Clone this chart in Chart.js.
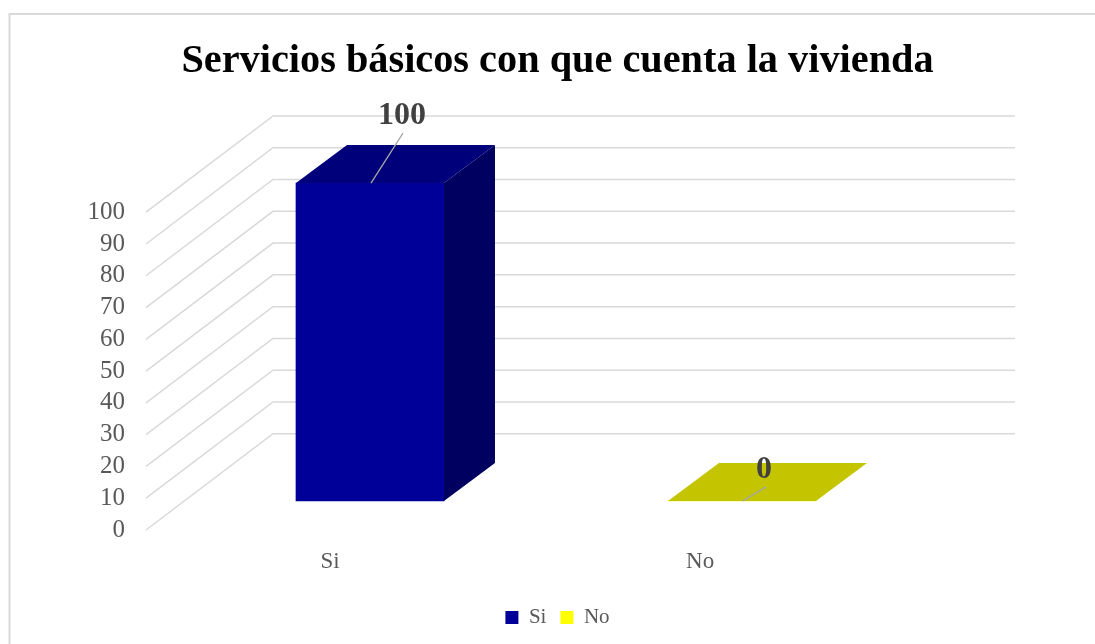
<!DOCTYPE html>
<html lang="es">
<head>
<meta charset="utf-8">
<title>Servicios básicos con que cuenta la vivienda</title>
<script src="https://cdn.jsdelivr.net/npm/chart.js@4"></script>
<style>
  html, body { margin: 0; padding: 0; background: #fff; }
  #wrap { width: 1095px; height: 644px; }
</style>
</head>
<body>
<div id="wrap"><canvas id="chart" width="1095" height="644"></canvas></div>
<script>
const chartTitle = 'Servicios básicos con que cuenta la vivienda';
const categories = ['Si', 'No'];
const seriesNames = ['Si', 'No'];
const seriesSi = [100, null];
const seriesNo = [null, 0];
const axisTicks = [0, 10, 20, 30, 40, 50, 60, 70, 80, 90, 100];

const FONT = '"Liberation Serif", serif';
// Oblique offset of the box depth and of the back wall
const BAR_DEPTH = { dx: 51, dy: -38 };
const WALL_DEPTH = { dx: 127 };
const GRID_RIGHT_INSET = 20;

function toPoints(values) {
  return values
    .map((y, x) => ({ x, y }))
    .filter(p => p.y !== null);
}

// Draws the frame edges and the walls behind the bars, from the front and back value axes
const wallPlugin = {
  id: 'wall',
  beforeDraw(chart) {
    const { ctx, width, height } = chart;
    ctx.save();
    ctx.strokeStyle = '#d9d9d9';
    ctx.lineWidth = 2;
    ctx.beginPath();
    ctx.moveTo(9.5, height);
    ctx.lineTo(9.5, 14);
    ctx.lineTo(width, 14);
    ctx.stroke();
    ctx.restore();
  },
  beforeDatasetsDraw(chart) {
    const { ctx, chartArea, scales } = chart;
    ctx.save();
    ctx.strokeStyle = '#d9d9d9';
    ctx.lineWidth = 1.5;
    axisTicks.forEach(v => {
      const yFront = scales.y.getPixelForValue(v);
      const yBack = scales.yBack.getPixelForValue(v);
      ctx.beginPath();
      ctx.moveTo(chartArea.left + 1, yFront);
      ctx.lineTo(chartArea.left + WALL_DEPTH.dx + 1, yBack);
      ctx.lineTo(chartArea.right - GRID_RIGHT_INSET, yBack);
      ctx.stroke();
    });
    ctx.restore();
  }
};

// Adds the side and top faces to each bar, then its value label and leader line
const boxPlugin = {
  id: 'box',
  afterDatasetsDraw(chart) {
    const { ctx } = chart;
    const { dx, dy } = BAR_DEPTH;
    ctx.save();
    chart.data.datasets.forEach((ds, i) => {
      chart.getDatasetMeta(i).data.forEach((bar, j) => {
        const half = bar.width / 2;
        const l = bar.x - half, r = bar.x + half;
        const t = bar.y, b = bar.base;
        if (b > t) {
          ctx.fillStyle = ds.sideColor;
          ctx.beginPath();
          ctx.moveTo(r, t);
          ctx.lineTo(r + dx, t + dy);
          ctx.lineTo(r + dx, b + dy);
          ctx.lineTo(r, b);
          ctx.closePath();
          ctx.fill();
        }
        ctx.fillStyle = ds.topColor;
        ctx.beginPath();
        ctx.moveTo(l, t);
        ctx.lineTo(l + dx, t + dy);
        ctx.lineTo(r + dx, t + dy);
        ctx.lineTo(r, t);
        ctx.closePath();
        ctx.fill();

        const o = ds.labelOffset;
        ctx.strokeStyle = '#a6a6a6';
        ctx.lineWidth = 1.3;
        ctx.beginPath();
        ctx.moveTo(bar.x + 1, t);
        ctx.lineTo(bar.x + o.lineX, t + o.lineY);
        ctx.stroke();

        ctx.fillStyle = '#404040';
        ctx.font = 'bold 32px ' + FONT;
        ctx.textAlign = 'center';
        ctx.textBaseline = 'middle';
        ctx.fillText(String(ds.data[j].y), bar.x + o.textX, t + o.textY);
      });
    });
    ctx.restore();
  }
};

new Chart(document.getElementById('chart'), {
  type: 'bar',
  data: {
    datasets: [
      {
        label: seriesNames[0],
        data: toPoints(seriesSi),
        xAxisID: 'xBar', yAxisID: 'yBar',
        backgroundColor: '#000099',
        sideColor: '#000060',
        topColor: '#00007a',
        labelOffset: { lineX: 33, lineY: -50, textX: 32, textY: -67 }
      },
      {
        label: seriesNames[1],
        data: toPoints(seriesNo),
        xAxisID: 'xBar', yAxisID: 'yBar',
        backgroundColor: '#ffff00',
        sideColor: '#9a9a00',
        topColor: '#c4c400',
        labelOffset: { lineX: 24, lineY: -14, textX: 22, textY: -31 }
      }
    ]
  },
  options: {
    responsive: false,
    animation: false,
    events: [],
    grouped: false,
    barThickness: 148,
    layout: { padding: { left: 80, right: 60, top: 0, bottom: 6 } },
    plugins: {
      tooltip: { enabled: false },
      title: {
        display: true,
        text: chartTitle,
        color: '#000000',
        font: { family: FONT, size: 40.3, weight: 'bold' },
        padding: { top: 37, bottom: 30.6 }
      },
      legend: {
        position: 'bottom',
        labels: {
          color: '#595959',
          font: { family: FONT, size: 21 },
          boxWidth: 13,
          boxHeight: 13,
          padding: 14
        }
      }
    },
    scales: {
      // Front value axis carrying the tick labels
      y: {
        type: 'linear',
        position: 'left',
        min: 0,
        max: 130.28,
        afterBuildTicks(scale) {
          scale.ticks = axisTicks.map(value => ({ value }));
        },
        afterFit(scale) { scale.width = 65; },
        grid: { display: false, drawTicks: false },
        border: { display: false },
        ticks: {
          color: '#595959',
          font: { family: FONT, size: 25 },
          padding: 20,
          autoSkip: false
        }
      },
      // Plane of the bars' front faces
      yBar: { type: 'linear', display: false, min: -9.15, max: 121.13 },
      // Back wall
      yBack: { type: 'linear', display: false, min: -30.28, max: 100 },
      // Category labels run along the front edge of the floor
      x: {
        type: 'linear',
        position: 'bottom',
        offset: false,
        min: -0.5,
        max: 1.905,
        afterBuildTicks(scale) {
          scale.ticks = categories.map((c, value) => ({ value }));
        },
        afterFit(scale) { scale.height = 63; },
        grid: { display: false, drawTicks: false },
        border: { display: false },
        ticks: {
          color: '#595959',
          font: { family: FONT, size: 23 },
          padding: 18,
          maxRotation: 0,
          autoSkip: false,
          callback: value => categories[value]
        }
      },
      xBar: { type: 'linear', display: false, offset: false, min: -0.6048, max: 1.7877 }
    }
  },
  plugins: [wallPlugin, boxPlugin]
});
</script>
</body>
</html>
